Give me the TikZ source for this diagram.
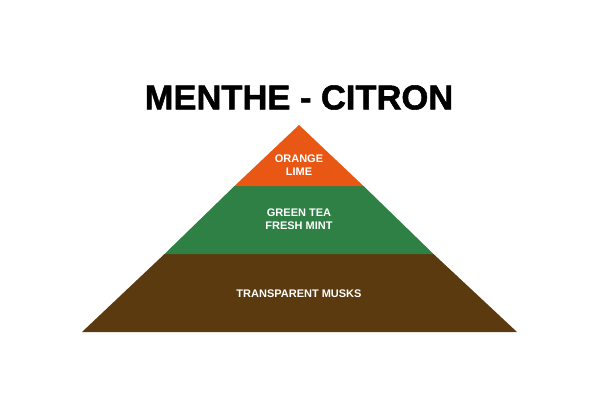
\documentclass[tikz,border=0pt]{standalone}
\usepackage{fontspec}
\setmainfont{Liberation Sans}
\newfontfamily\heavytitle[FakeBold=1.5]{Liberation Sans Bold}
\definecolor{toporange}{RGB}{232,88,20}
\definecolor{midgreen}{RGB}{47,128,68}
\definecolor{basebrown}{RGB}{92,58,15}
\begin{document}
\begin{tikzpicture}[x=1pt,y=-1pt,
  layertext/.style={text=white,font=\bfseries\fontsize{11}{13}\selectfont,align=center,inner sep=0pt},
  titletext/.style={font=\heavytitle\fontsize{34.5}{40}\selectfont,inner sep=0pt}]
\useasboundingbox (0,0) rectangle (600,420);
% layers
\fill[basebrown] (164.5,254) -- (433.5,254) -- (517,332) -- (82,332) -- cycle;
\fill[midgreen] (234.5,186) -- (363.5,186) -- (433.5,254) -- (164.5,254) -- cycle;
\fill[toporange] (299,125) -- (363.5,186) -- (234.5,186) -- cycle;
% texts
\node[titletext] (title) at (299,97.5) {MENTHE - CITRON};
\node[layertext] (top) at (299,165.5) {ORANGE\\LIME};
\node[layertext] (mid) at (299,219.5) {GREEN TEA\\FRESH MINT};
\node[layertext] (base) at (299,294) {TRANSPARENT MUSKS};
\end{tikzpicture}
\end{document}
